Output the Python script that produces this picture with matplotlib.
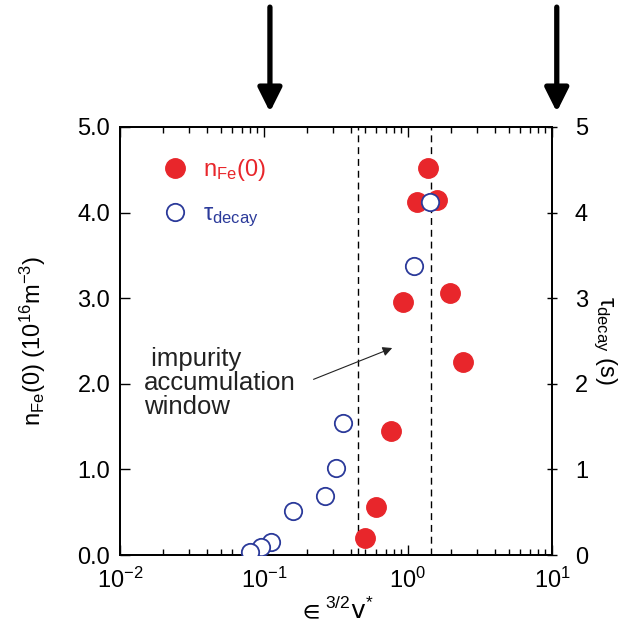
import numpy as np
import matplotlib
matplotlib.use('Agg')
from matplotlib import pyplot as plt

plt.rcParams['font.family'] = ['Liberation Sans', 'DejaVu Sans']
plt.rcParams['mathtext.fontset'] = 'custom'
plt.rcParams['mathtext.rm'] = 'Liberation Sans'
plt.rcParams['mathtext.it'] = 'Liberation Sans:italic'
plt.rcParams['mathtext.default'] = 'regular'
plt.rcParams['mathtext.fallback'] = 'stixsans'

# n_Fe(0) (10^16 m^-3) vs collisionality
nfe_x = [1.38, 1.155, 1.59, 1.96, 0.92, 2.41, 0.76, 0.60, 0.50]
nfe_y = [4.52, 4.12, 4.15, 3.06, 2.96, 2.26, 1.45, 0.56, 0.20]

# tau_decay (s)
tau_x = [1.42, 1.10, 0.354, 0.316, 0.265, 0.159, 0.112, 0.095, 0.080]
tau_y = [4.12, 3.38, 1.54, 1.02, 0.69, 0.51, 0.15, 0.09, 0.04]

# accumulation window bounds
window = [0.45, 1.45]
arrow_x = [0.11, 10.8]

red = '#e8262b'
blue = '#2b3a9a'
fs = 17

fig = plt.figure(figsize=(6.43, 6.40), dpi=100)
ax = fig.add_axes([0.1866, 0.1328, 0.6718, 0.6688])
ax.set_xscale('log')
ax.set_xlim(1e-2, 1e1)
ax.set_ylim(0, 5)

for w in window:
    ax.axvline(w, color='black', lw=1.0, ls=(0, (5, 3.5)), zorder=1)

l1, = ax.plot(nfe_x, nfe_y, 'o', color=red, ms=14, mec=red, ls='none', zorder=3)

ax.set_yticks([0, 1, 2, 3, 4, 5])
ax.set_yticklabels(['0.0', '1.0', '2.0', '3.0', '4.0', '5.0'])
ax.tick_params(axis='both', which='major', direction='in', length=7, width=1.0,
               labelsize=fs, top=True)
ax.tick_params(axis='x', which='minor', direction='in', length=4.5, width=1.0, top=True)
ax.tick_params(axis='y', pad=7)
ax.tick_params(axis='x', pad=9)
ax.set_ylabel(r'n$_{\rm Fe}$(0) (10$^{16}$m$^{-3}$)', fontsize=fs, labelpad=21)
ax.set_xlabel(r'$\in^{3/2}\mathrm{v}^{*}$', fontsize=fs + 1, labelpad=2,
              math_fontfamily='dejavusans')

ax2 = ax.twinx()
ax2.set_ylim(0, 5)
l2, = ax2.plot(tau_x, tau_y, 'o', mfc='white', mec=blue, mew=1.3, ms=12.5, ls='none', zorder=3)
ax2.set_yticks([0, 1, 2, 3, 4, 5])
ax2.tick_params(axis='y', direction='inout', length=7, width=1.0, labelsize=fs, pad=13)
ax2.set_ylabel(r'$\tau_{\rm decay}$ (s)', fontsize=fs, rotation=270, labelpad=22)

for a in (ax, ax2):
    for s in a.spines.values():
        s.set_linewidth(1.3)

leg = ax2.legend([l1, l2], [r'n$_{\rm Fe}$(0)', r'$\tau_{\rm decay}$'], loc='upper left',
                 bbox_to_anchor=(0.045, 0.98), frameon=False, fontsize=fs,
                 handletextpad=0.6, labelspacing=0.85, handlelength=1.2)
leg.get_texts()[0].set_color(red)
leg.get_texts()[1].set_color(blue)

ax.text(0.0147, 2.01, ' impurity\naccumulation\nwindow', fontsize=18.5, ha='left', va='center',
        linespacing=1.0, color='#222222')
ax.annotate('', xy=(0.81, 2.43), xytext=(0.212, 2.04),
            arrowprops=dict(arrowstyle='-|>', lw=0.8, color='#222222', mutation_scale=14))

for xa in arrow_x:
    ax.annotate('', xy=(xa, 1.035), xycoords=('data', 'axes fraction'),
                xytext=(xa, 1.28), textcoords=('data', 'axes fraction'),
                annotation_clip=False,
                arrowprops=dict(arrowstyle='-|>', lw=3.8, color='black', mutation_scale=36,
                                shrinkA=0, shrinkB=0))

plt.savefig('out.png', dpi=100)
